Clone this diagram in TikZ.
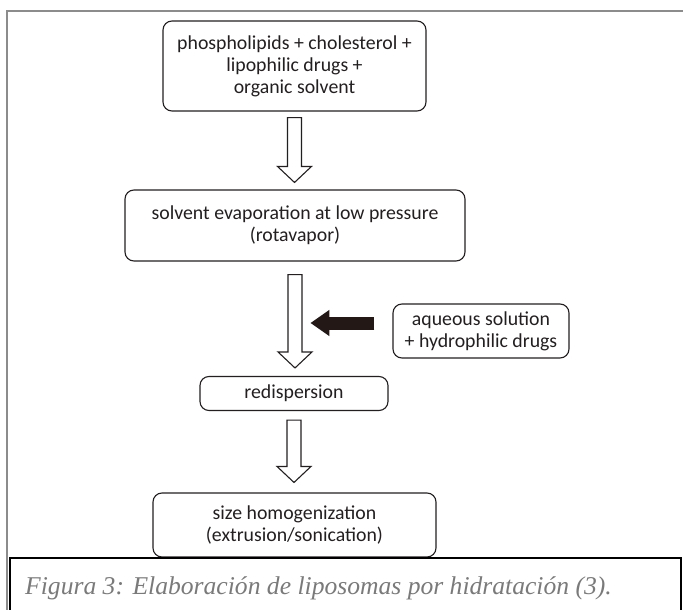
\documentclass[tikz,border=0pt]{standalone}
\usepackage{fontspec}
\setmainfont{Carlito}
\newfontfamily\capfont{Liberation Serif}
\usetikzlibrary{calc,arrows.meta}
\definecolor{inkgray}{HTML}{231F20}
\definecolor{framegray}{HTML}{8C8C8C}
\definecolor{capgray}{HTML}{7A7A7A}
\definecolor{feedbrown}{HTML}{231815}

\newcommand{\hollowarrow}[2]{%
  \draw[inkgray,line width=1.1pt,fill=white] let \p1=(#1), \p2=(#2) in
    (\x1-7pt,\y1) -- (\x1+7pt,\y1) -- (\x1+7pt,\y2+16pt) -- (\x1+17pt,\y2+16pt)
    -- (\x1,\y2) -- (\x1-17pt,\y2+16pt) -- (\x1-7pt,\y2+16pt) -- cycle;}

\begin{document}
\begin{tikzpicture}[x=1pt,y=-1pt]
\tikzstyle{every node}+=[inner sep=0pt]
\tikzstyle{stepbox}=[draw=inkgray,line width=1.1pt,rounded corners=9pt,align=center,text=inkgray,font=\fontsize{19.8}{22}\selectfont]
\useasboundingbox (0,0) rectangle (683,610);
\fill[white] (0,0) rectangle (683,610);
\draw[framegray,line width=1.5pt] (7,610) -- (7,11) -- (683,11);

\node[stepbox,minimum width=263pt,minimum height=90pt] (mix) at (294.5,66) {phospholipids + cholesterol +\\ lipophilic drugs +\\ organic solvent};
\node[stepbox,minimum width=340pt,minimum height=71pt] (evap) at (295,225.5) {solvent evaporation at low pressure\\ (rotavapor)};
\node[stepbox,minimum width=188pt,minimum height=34pt] (redisp) at (294,393.5) {redispersion};
\node[stepbox,minimum width=176pt,minimum height=54pt] (aq) at (481,331) {aqueous solution\\ + hydrophilic drugs};
\node[stepbox,minimum width=283pt,minimum height=64pt] (homog) at (294.5,525) {size homogenization\\ (extrusion/sonication)};

\hollowarrow{$(mix.south)+(0,-6pt)$}{$(evap.north)+(0,7pt)$}
\hollowarrow{$(evap.south)+(0,-13pt)$}{$(redisp.north)+(0,8pt)$}
\hollowarrow{$(redisp.south)+(0,-9pt)$}{$(homog.north)+(0,10pt)$}

\coordinate (feedtail) at ($(aq.west)+(-18pt,8pt)$);
\coordinate (feedtip) at ($(aq.west)+(-82pt,8pt)$);
\draw[feedbrown,line width=13pt,-{Triangle[length=19pt,width=25pt]}] (feedtail) -- (feedtip);

\draw[black,line width=1.5pt,fill=white] (10,558) rectangle (681,615);
\node[anchor=base west,text=capgray,font=\capfont\itshape\fontsize{25.6}{30}\selectfont] (caption) at (25,594) {Figura 3: Elaboración de liposomas por hidratación (3).};
\end{tikzpicture}
\end{document}
